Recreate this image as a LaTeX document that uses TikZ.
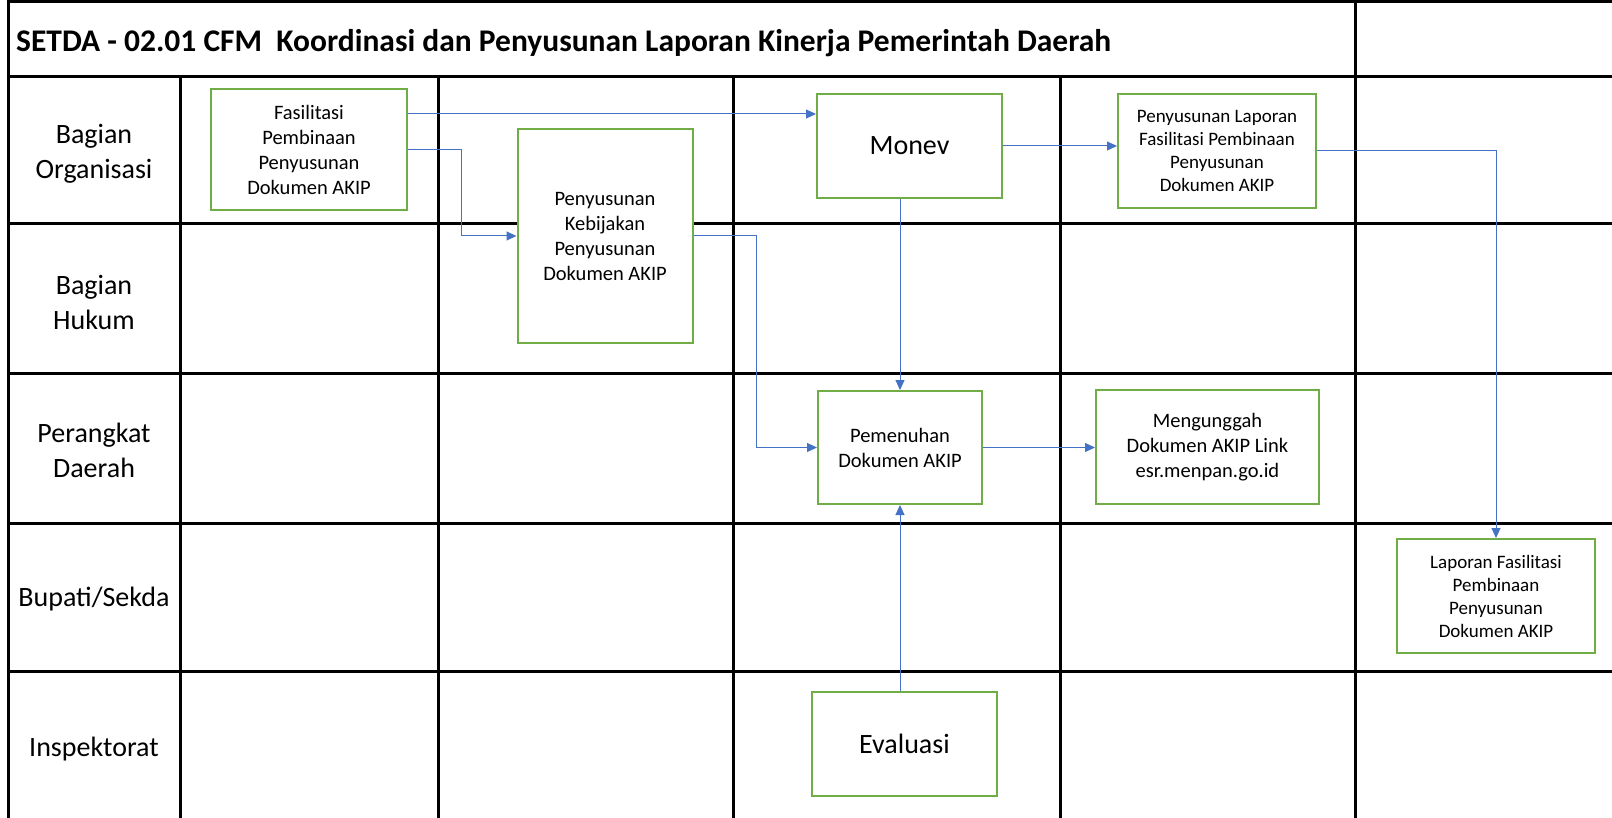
\documentclass[tikz,border=0pt]{standalone}
\usepackage{fontspec}
\setmainfont{Carlito}
\usetikzlibrary{arrows.meta}
\definecolor{boxgreen}{HTML}{70AD47}
\definecolor{linkblue}{HTML}{4472C4}
\begin{document}
\begin{tikzpicture}[x=1pt,y=-1pt,
  gridline/.style={line width=3pt, black},
  proc/.style={draw=boxgreen, line width=2pt, align=center, inner sep=0pt, fill=white},
  txt/.style={font=\fontsize{20.5}{25}\selectfont},
  smalltxt/.style={font=\fontsize{19}{23}\selectfont},
  bigtxt/.style={font=\fontsize{28}{33}\selectfont},
  lane/.style={align=center, inner sep=0pt, font=\fontsize{28}{35}\selectfont},
  link/.style={draw=linkblue, line width=1pt, -{Triangle[length=10pt,width=9pt]}}]
\useasboundingbox (0,0) rectangle (1612,818);
\begin{scope}
\clip (0,0) rectangle (1612,818);
% grid
\foreach \yy in {1.5,77,224,373,523,671} \draw[gridline] (6.5,\yy) -- (1620,\yy);
\draw[gridline] (8,0) -- (8,830);
\draw[gridline] (1355,0) -- (1355,830);
\foreach \xx in {180,438,733,1060} \draw[gridline] (\xx,77) -- (\xx,830);
\end{scope}
% title
\node[anchor=west, inner sep=0pt, font=\bfseries\fontsize{31.5}{36}\selectfont] (title) at (16,43) {SETDA - 02.01 CFM\ \ Koordinasi dan Penyusunan Laporan Kinerja Pemerintah Daerah};
% lanes
\node[lane] (l1) at (94,154) {Bagian\\Organisasi};
\node[lane] (l2) at (94,302) {Bagian\\Hukum};
\node[lane] (l3) at (94,450) {Perangkat\\Daerah};
\node[lane] (l4) at (94,599) {Bupati/Sekda};
\node[lane] (l5) at (94,749) {Inspektorat};
% boxes
\node[proc, txt, minimum width=196pt, minimum height=121pt] (fas) at (309,149.5) {Fasilitasi\\Pembinaan\\Penyusunan\\Dokumen AKIP};
\node[proc, txt, minimum width=175pt, minimum height=214pt] (keb) at (605,236) {Penyusunan\\Kebijakan\\Penyusunan\\Dokumen AKIP};
\node[proc, bigtxt, minimum width=185pt, minimum height=104pt] (monev) at (909.5,146) {Monev};
\node[proc, txt, minimum width=164pt, minimum height=113pt] (pem) at (900,447.5) {Pemenuhan\\Dokumen AKIP};
\node[proc, txt, minimum width=223pt, minimum height=114pt] (meng) at (1207.5,447) {Mengunggah\\Dokumen AKIP Link\\esr.menpan.go.id};
\node[proc, smalltxt, minimum width=198pt, minimum height=114pt] (penylap) at (1217,151) {Penyusunan Laporan\\Fasilitasi Pembinaan\\Penyusunan\\Dokumen AKIP};
\node[proc, smalltxt, minimum width=198pt, minimum height=114pt] (lapfas) at (1496,596) {Laporan Fasilitasi\\Pembinaan\\Penyusunan\\Dokumen AKIP};
\node[proc, bigtxt, minimum width=185pt, minimum height=104pt] (eval) at (904.5,744) {Evaluasi};
% connectors
\draw[link] (fas.east |- 0,114) -- (monev.west |- 0,114);
\draw[link] (fas.east |- 0,150) -- (461,150) |- (keb.west);
\draw[link] (keb.east) -- (756,236) |- (pem.west);
\draw[link] (monev.south -| pem.north) -- (pem.north);
\draw[link] (monev.east) -- (penylap.west |- monev.east);
\draw[link] (penylap.east) -| (lapfas.north);
\draw[link] (pem.east) -- (meng.west |- pem.east);
\draw[link] (eval.north -| pem.south) -- (pem.south);
\end{tikzpicture}
\end{document}
